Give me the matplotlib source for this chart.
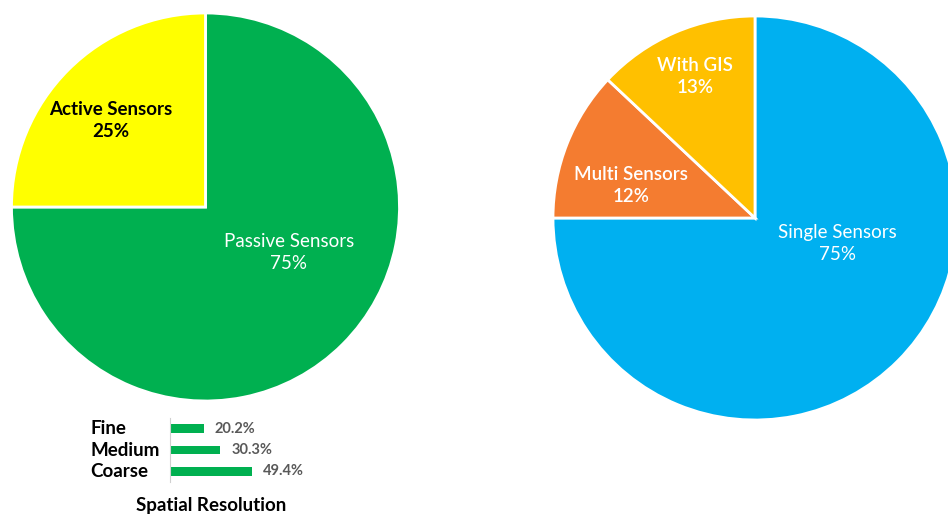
import matplotlib.pyplot as plt

plt.rcParams['font.family'] = ['Lato', 'DejaVu Sans']

# left pie: sensor type
sensor_labels = ['Passive Sensors', 'Active Sensors']
sensor_values = [75, 25]
sensor_colors = ['#00B050', '#FFFF00']

# right pie: sensor combination
combo_labels = ['Single Sensors', 'Multi Sensors', 'With GIS']
combo_values = [75, 12, 13]
combo_colors = ['#00B0F0', '#F47C30', '#FFC000']

# small bar chart: spatial resolution
res_labels = ['Fine', 'Medium', 'Coarse']
res_values = [20.2, 30.3, 49.4]

fig = plt.figure(figsize=(9.48, 5.15), dpi=100)
W, H = 948, 515


def px_axes(cx, cy, r):
    return fig.add_axes([(cx - r) / W, (H - cy - r) / H, 2 * r / W, 2 * r / H])


def draw_pie(ax, values, colors, labels, label_pos, text_colors, weights):
    ax.pie(values, colors=colors, startangle=90, counterclock=False,
           wedgeprops=dict(edgecolor='white', linewidth=2))
    ax.set_xlim(-1, 1)
    ax.set_ylim(-1, 1)
    for lab, v, (x, y), c, w in zip(labels, values, label_pos, text_colors, weights):
        ax.text(x, y, f'{lab}\n{v}%', ha='center', va='center', color=c,
                fontsize=13.5, fontweight=w, linespacing=1.35)


ax1 = px_axes(205.5, 207, 194)
draw_pie(ax1, sensor_values, sensor_colors, sensor_labels,
         [(0.43, -0.235), (-0.49, 0.445)], ['white', 'black'], ['normal', 'bold'])

ax2 = px_axes(755, 218, 202)
draw_pie(ax2, combo_values, combo_colors, combo_labels,
         [(0.41, -0.125), (-0.615, 0.16), (-0.295, 0.70)],
         ['white', 'white', 'white'], ['normal', 'semibold', 'semibold'])

# bar inset
ax3 = fig.add_axes([170 / W, (H - 482) / H, 100 / W, 64 / H])
pos = range(len(res_values))
ax3.barh(pos, res_values, height=0.4, color='#00B050')
ax3.set_xlim(0, 60.2)
ax3.set_ylim(2.5, -0.5)
for sp in ['top', 'right', 'bottom']:
    ax3.spines[sp].set_visible(False)
ax3.spines['left'].set_color('#d0d0d0')
ax3.set_xticks([])
ax3.set_yticks([])
for i, (lab, v) in enumerate(zip(res_labels, res_values)):
    ax3.text(v + 6.5, i, f'{v}%', va='center', ha='left', color='#595959',
             fontsize=10.5, fontweight='bold')
    ax3.text(-80 / 100 * 60.2, i, lab, va='center', ha='left', color='black',
             fontsize=13.5, fontweight='bold')
fig.text(211 / W, 1 - 505 / H, 'Spatial Resolution', ha='center', va='center',
         fontsize=13.5, fontweight='bold')

fig.savefig('out.png', dpi=100)
